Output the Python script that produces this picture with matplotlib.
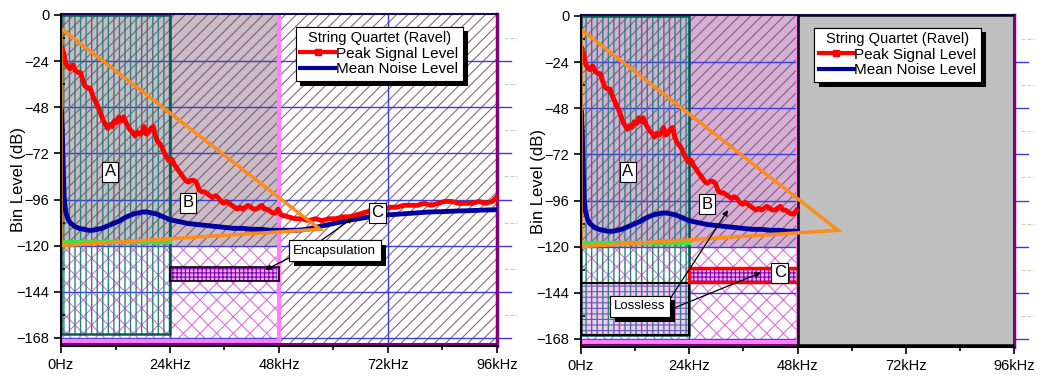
import matplotlib.pyplot as plt
import matplotlib.patheffects as pe
from matplotlib.patches import Rectangle, Polygon
from matplotlib.lines import Line2D
import numpy as np

plt.rcParams['font.family'] = ['Liberation Sans', 'DejaVu Sans']
plt.rcParams['hatch.linewidth'] = 0.8

# axis ticks
freq_ticks = [0, 24, 48, 72, 96]
freq_labels = ['0Hz', '24kHz', '48kHz', '72kHz', '96kHz']
db_ticks = [0, -24, -48, -72, -96, -120, -144, -168]

# peak signal level (kHz, dB)
peak_khz = [0.2, 0.6, 1.0, 1.5, 2.0, 2.6, 3.2, 3.8, 4.3, 4.8, 5.3, 5.9, 6.4, 7.0, 7.6,
            8.2, 8.7, 9.3, 9.8, 10.3, 10.8, 11.3, 11.8, 12.3, 12.8, 13.3, 13.8, 14.3,
            14.8, 15.3, 15.8, 16.3, 16.8, 17.3, 17.8, 18.3, 18.8, 19.3, 19.8, 20.3,
            20.8, 21.3, 21.8, 22.3, 22.8, 23.3, 23.8, 24.4, 25.0, 25.6, 26.2, 26.8,
            27.4, 28.0, 28.6, 29.2, 29.8, 30.4, 31.0, 31.6, 32.2, 32.8, 33.4, 34.0,
            34.6, 35.2, 35.8, 36.4, 37.0, 37.6, 38.2, 38.8, 39.4, 40.0, 40.6, 41.2,
            41.8, 42.4, 43.0, 43.6, 44.2, 44.8, 45.4, 46.0, 46.6, 47.2, 47.8, 48.5,
            50.0, 51.5, 53.0, 54.5, 56.0, 57.5, 59.0, 60.5, 62.0, 63.5, 65.0, 66.5,
            68.0, 69.5, 71.0, 72.5, 74.0, 75.5, 77.0, 78.5, 80.0, 81.5, 83.0, 84.5,
            86.0, 87.5, 89.0, 90.5, 92.0, 93.5, 95.0, 95.8]
peak_db = [-17, -20, -25, -27, -28, -26, -29, -30, -30, -34, -37, -38, -38, -42, -45,
           -48, -51, -55, -57, -59, -57, -58, -55, -56, -53, -55, -53, -56,
           -58, -60, -61, -63, -61, -62, -61, -58, -62, -61, -59, -58,
           -63, -66, -67, -69, -72, -74, -76, -75, -78, -80, -82, -84,
           -86, -87, -86, -86, -87, -91, -92, -92, -93, -94, -95, -94,
           -95, -97, -98, -97, -98, -99, -100, -101, -100, -101, -100, -99,
           -100, -101, -101, -100, -99, -101, -101, -102, -103, -103, -101, -104,
           -105, -106, -106, -107, -106, -107, -106, -106, -105, -105, -104, -103,
           -102, -103, -101, -100, -100, -99, -99, -99, -98, -99, -98, -97,
           -97, -98, -98, -98, -97, -98, -97, -95]

# mean noise level (kHz, dB)
noise_khz = [0.1, 0.3, 0.5, 0.7, 1.0, 1.5, 2.0, 3.0, 4.0, 5.0, 6.0, 7.0, 8.0, 9.0,
             10.0, 11.0, 12.0, 13.0, 14.0, 15.0, 16.0, 17.0, 18.0, 19.0, 20.0, 21.0,
             22.0, 23.0, 24.0, 26, 28, 30, 32, 34, 36, 38, 40, 42, 44, 46, 48, 50,
             52, 54, 56, 58, 60, 62, 64, 66, 68, 70, 72, 75, 78, 81, 84, 87, 90, 93, 96]
noise_db = [-50, -62, -80, -95, -102, -106, -108, -110, -111, -111.5, -112, -112,
            -111.5, -111, -110, -109, -108, -107, -105.5, -104.5, -103.5, -103,
            -102.5, -102.5, -103, -103.5, -104.5, -105.5, -106.5, -107.5, -108.5,
            -109, -109.5, -110, -110.5, -111, -111, -111.5, -111.5, -112, -112, -112,
            -112, -111.5, -110.5, -109.5, -108.5, -107.5, -106.5, -105.8, -105,
            -104.5, -104, -103.5, -103, -102.5, -102.3, -102, -101.8, -101.5, -101.3]

# region boundaries
band_edges = [0, 24, 48, 96]
floor_db = -120
green_db = -118
region_a_bottom = -166
box_c_db = [-138.5, -131]
lossless_db = [-166, -139]
tri_khz = [0, 57, 0]
tri_db = [-7, -111.5, -120]

ymin, ymax = -172.2, 0.5
grid_c = '#3c3cdc'
shadow = [pe.withSimplePatchShadow(offset=(3.5, -3.5), shadow_rgbFace='black', alpha=1),
          pe.Normal()]


def panel(ax, lossless):
    f0, f1, f2, f3 = band_edges
    ax.set_xlim(f0, f3)
    ax.set_ylim(ymin, ymax)

    if lossless:
        upper_face, upper_hatch = '#d4b0d4', '#8a5a80'
    else:
        upper_face, upper_hatch = '#c8bcc6', '#8a5a70'

    plt.rcParams['hatch.linewidth'] = 0.8
    # upper signal area 0-48k
    ax.add_patch(Rectangle((f0, floor_db), f2 - f0, ymax - floor_db, facecolor=upper_face,
                           edgecolor=upper_hatch, hatch='///', lw=0, zorder=0.5))
    # sub floor crosshatch 0-48k
    ax.add_patch(Rectangle((f0, ymin), f2 - f0, floor_db - ymin, facecolor='white',
                           edgecolor='#e070d8', hatch='xx', lw=0, zorder=0.5))
    # 48-96k
    if lossless:
        ax.add_patch(Rectangle((f2, ymin + 1), f3 - f2, -ymin - 0.5, facecolor='#c0c0c0',
                               edgecolor='black', lw=1.8, zorder=3))
    else:
        ax.add_patch(Rectangle((f2, ymin), f3 - f2, ymax - ymin, facecolor='white',
                               edgecolor='#8a6a72', hatch='///', lw=0, zorder=0.5))

    # grid
    for y in db_ticks[1:]:
        ax.plot([f0, f3], [y, y], color=grid_c, lw=1, zorder=1)
        ax.plot([f3, f3 + 3], [y, y], color=grid_c, lw=1, zorder=1, clip_on=False)
        ax.plot([f3 + 1.5, f3 + 4.5], [y + 12, y + 12], color='#b0e0b0', lw=0.8,
                ls='--', zorder=1, clip_on=False)
    for x in freq_ticks[1:]:
        ax.plot([x, x], [ymin, ymax], color=grid_c, lw=1, zorder=1)

    # boxes below floor
    if lossless:
        ax.add_patch(Rectangle((f0, lossless_db[0]), f1 - f0, lossless_db[1] - lossless_db[0],
                               facecolor='#f4c8f4', edgecolor='#9040d0', hatch='---',
                               lw=0, zorder=1.2))
        ax.add_patch(Rectangle((f0, lossless_db[0]), f1 - f0, lossless_db[1] - lossless_db[0],
                               fill=False, edgecolor='black', lw=1.5, zorder=2.5))
        c_edge, c_lw = 'red', 2.5
    else:
        c_edge, c_lw = 'black', 1.2
    ax.add_patch(Rectangle((f1, box_c_db[0]), f2 - f1, box_c_db[1] - box_c_db[0],
                           facecolor='#e8a8f0', edgecolor='#8000b0', hatch='++++',
                           lw=0, zorder=1.5))
    ax.add_patch(Rectangle((f1, box_c_db[0]), f2 - f1, box_c_db[1] - box_c_db[0],
                           fill=False, edgecolor=c_edge, lw=c_lw, zorder=2.5))

    # region A vertical hatch
    plt.rcParams['hatch.linewidth'] = 1.0
    ax.add_patch(Rectangle((f0, region_a_bottom), f1 - f0, -region_a_bottom,
                           fill=False, edgecolor='#24857c', hatch='|||', lw=0, zorder=1.3))
    plt.rcParams['hatch.linewidth'] = 0.8
    ax.add_patch(Rectangle((f0, region_a_bottom), f1 - f0, -region_a_bottom,
                           fill=False, edgecolor='#0b5a55', lw=1.8, zorder=2))

    # 48k pink divider and bottom bands
    ax.plot([f2, f2], [ymin, ymax], color='#ff80ff', lw=3, zorder=2)
    ax.plot([f0, f2], [-169.6, -169.6], color='#ff80ff', lw=3, zorder=2)
    ax.plot([f0, f3], [-171.4, -171.4], color='#800080', lw=1.5, zorder=2)

    # curves
    pk = np.array(peak_khz)
    pd_ = np.array(peak_db)
    nk = np.array(noise_khz)
    nd = np.array(noise_db)
    if lossless:
        pmask = pk <= 48
        nmask = nk <= 48
        pk, pd_, nk, nd = pk[pmask], pd_[pmask], nk[nmask], nd[nmask]
    ax.plot([f0, f1], [green_db, green_db], color='#40e040', lw=3, zorder=3.5)
    ax.plot(nk, nd, color='#0000a0', lw=3.5, zorder=4)
    ax.plot(pk, pd_, color='red', lw=3.5, zorder=4.5)
    ax.add_patch(Polygon(np.column_stack([tri_khz, tri_db]), closed=True, fill=False,
                         edgecolor='#ff8c1a', lw=2.5, zorder=5))

    # axes styling
    ax.set_xticks(freq_ticks)
    ax.set_xticklabels(freq_labels)
    ax.set_yticks(db_ticks)
    ax.set_xticks([12, 36, 60, 84], minor=True)
    ax.set_yticks([-12, -36, -60, -84, -108, -132, -156], minor=True)
    ax.tick_params(axis='both', which='major', direction='out', length=5, width=1.2,
                   labelsize=10.5)
    ax.tick_params(axis='x', which='minor', direction='out', length=3, width=1.2)
    ax.tick_params(axis='y', which='minor', direction='in', length=3, width=1.2)
    for s in ['left', 'bottom']:
        ax.spines[s].set_linewidth(1.5)
        ax.spines[s].set_zorder(6)
    ax.spines['top'].set_color('#101050')
    ax.spines['top'].set_linewidth(1.5)
    ax.spines['right'].set_color('#800080')
    ax.spines['right'].set_linewidth(2.5)
    ax.set_ylabel('Bin Level (dB)', fontsize=12)
    ax.yaxis.set_label_coords(-0.08, 0.5)

    # legend
    handles = [Line2D([], [], color='red', lw=3, marker='s', markersize=5),
               Line2D([], [], color='#0000a0', lw=3)]
    leg = ax.legend(handles, ['Peak Signal Level', 'Mean Noise Level'],
                    title='String Quartet (Ravel)', loc='upper left',
                    bbox_to_anchor=(0.538, 0.962), borderaxespad=0, fontsize=11,
                    title_fontsize=10.5, fancybox=False, framealpha=1,
                    edgecolor='black', handlelength=2.3, handletextpad=0.05,
                    labelspacing=0.1, borderpad=0.3)
    leg.get_frame().set_linewidth(0.8)
    leg.get_frame().set_path_effects(shadow)
    leg.set_zorder(10)


def label(ax, s, x, y, size=12):
    ax.text(x, y, s, ha='center', va='center', fontsize=size, zorder=8,
            bbox=dict(boxstyle='square,pad=0.15', fc='white', ec='black', lw=0.8))


def callout(ax, s, x, y, targets):
    for (tx, ty, sx, sy) in targets:
        ax.annotate('', xy=(tx, ty), xytext=(sx, sy), zorder=7,
                    arrowprops=dict(arrowstyle='-|>', color='black', lw=0.9,
                                    mutation_scale=8, shrinkA=0, shrinkB=0))
    t = ax.text(x, y, s, ha='center', va='center', fontsize=9.5, zorder=8,
                bbox=dict(boxstyle='square,pad=0.35', fc='white', ec='black', lw=0.8))
    t.get_bbox_patch().set_path_effects(shadow)


fig = plt.figure(figsize=(10.45, 3.79), dpi=100)
ax1 = fig.add_axes([61 / 1045, 33 / 379, 436 / 1045, 332 / 379])
ax2 = fig.add_axes([581 / 1045, 32 / 379, 433 / 1045, 332 / 379])

panel(ax1, False)
panel(ax2, True)

label(ax1, 'A', 10.8, -81.6)
label(ax1, 'B', 28, -97.8)
label(ax1, 'C', 69.6, -103)
callout(ax1, 'Encapsulation', 60.3, -122.7,
        [(45, -132.6, 51, -125.5), (64.3, -105.5, 56, -119.5)])

label(ax2, 'A', 10.4, -81)
label(ax2, 'B', 27.9, -98)
label(ax2, 'C', 44.1, -133.5)
callout(ax2, 'Lossless', 13.1, -151,
        [(32.6, -101, 19.5, -148), (39.9, -133.5, 19.5, -153)])

fig.savefig('out.png', dpi=100)
